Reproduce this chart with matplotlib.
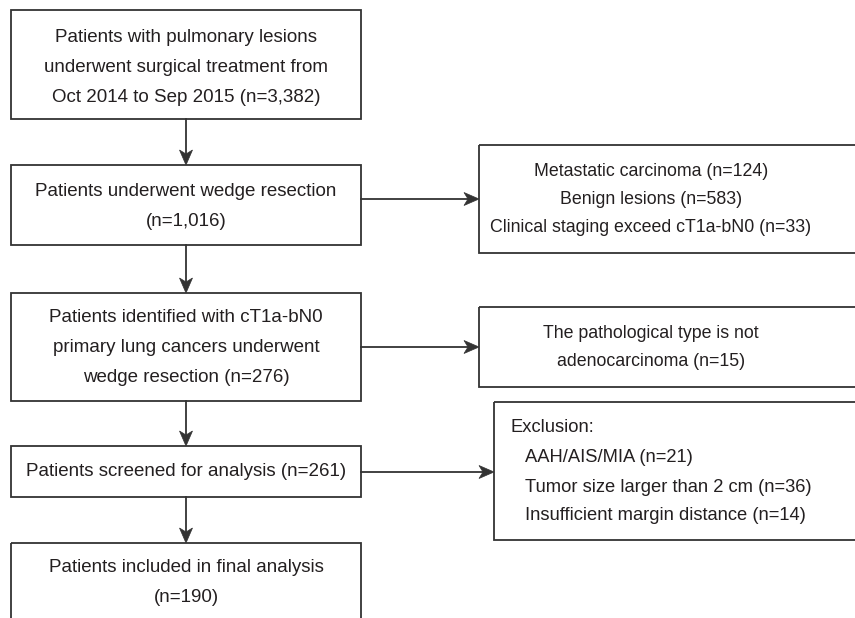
import matplotlib.pyplot as plt
from matplotlib.patches import Rectangle, Polygon

# flow steps (main column) and exclusions (right column)
main_steps = [
    ["Patients with pulmonary lesions", "underwent surgical treatment from", "Oct 2014 to Sep 2015 (n=3,382)"],
    ["Patients underwent wedge resection", "(n=1,016)"],
    ["Patients identified with cT1a-bN0", "primary lung cancers underwent", "wedge resection (n=276)"],
    ["Patients screened for analysis (n=261)"],
    ["Patients included in final analysis", "(n=190)"],
]
excluded = [
    ["Metastatic carcinoma (n=124)", "Benign lesions (n=583)", "Clinical staging exceed cT1a-bN0 (n=33)"],
    ["The pathological type is not", "adenocarcinoma (n=15)"],
]
exclusion_title = "Exclusion:"
exclusion_items = ["AAH/AIS/MIA (n=21)", "Tumor size larger than 2 cm (n=36)", "Insufficient margin distance (n=14)"]

# layout (pixels)
left_x0, left_x1 = 11, 361
main_boxes = [(10, 119), (165, 245), (293, 401), (446, 497), (543, 640)]
main_text_y = [[37, 67, 97], [192, 222], [318, 347, 377], [472], [568, 598]]
right_x0 = [479, 479, 494]
right_boxes = [(145, 253), (307, 387), (402, 540)]
right_text_y = [[171, 199, 228], [333, 362]]
arrow_y = [199, 347, 472]

LC = "#333333"
TC = "#231f20"
plt.rcParams['font.family'] = ['Liberation Sans', 'DejaVu Sans']

fig = plt.figure(figsize=(8.55, 6.18), dpi=100)
ax = fig.add_axes([0, 0, 1, 1])
ax.set_xlim(0, 855)
ax.set_ylim(618, 0)
ax.axis('off')


def arrow(x0, y0, x1, y1):
    # line plus a notched (stealth-like) head
    L, W, N = 15, 6.5, 4
    if x0 == x1:
        d = 1 if y1 > y0 else -1
        ax.plot([x0, x1], [y0, y1 - d * N], color=LC, lw=1.3)
        pts = [(x1, y1), (x1 - W, y1 - d * L), (x1, y1 - d * (L - N)), (x1 + W, y1 - d * L)]
    else:
        d = 1 if x1 > x0 else -1
        ax.plot([x0, x1 - d * N], [y0, y1], color=LC, lw=1.3)
        pts = [(x1, y1), (x1 - d * L, y1 - W), (x1 - d * (L - N), y1), (x1 - d * L, y1 + W)]
    ax.add_patch(Polygon(pts, closed=True, fc=LC, ec=LC, lw=0.5))


cx = (left_x0 + left_x1) / 2
for (y0, y1), lines, ys in zip(main_boxes, main_steps, main_text_y):
    ax.add_patch(Rectangle((left_x0, y0), left_x1 - left_x0, y1 - y0, fill=False, ec=LC, lw=1.3))
    for t, y in zip(lines, ys):
        ax.text(cx, y, t, ha='center', va='center', fontsize=13.5, color=TC)

for i in range(len(main_boxes) - 1):
    arrow(cx, main_boxes[i][1], cx, main_boxes[i + 1][0])

for (y0, y1), x0 in zip(right_boxes, right_x0):
    ax.add_patch(Rectangle((x0, y0), 900 - x0, y1 - y0, fill=False, ec=LC, lw=1.3))

for lines, ys in zip(excluded, right_text_y):
    for t, y in zip(lines, ys):
        ax.text(651, y, t, ha='center', va='center', fontsize=12.8, color=TC)

ax.text(510, 428, exclusion_title, ha='left', va='center', fontsize=13.2, color=TC)
for t, y in zip(exclusion_items, [457, 487, 515]):
    ax.text(525, y, t, ha='left', va='center', fontsize=13.2, color=TC)

for y, x0 in zip(arrow_y, right_x0):
    arrow(left_x1, y, x0, y)

fig.savefig('out.png', dpi=100)
